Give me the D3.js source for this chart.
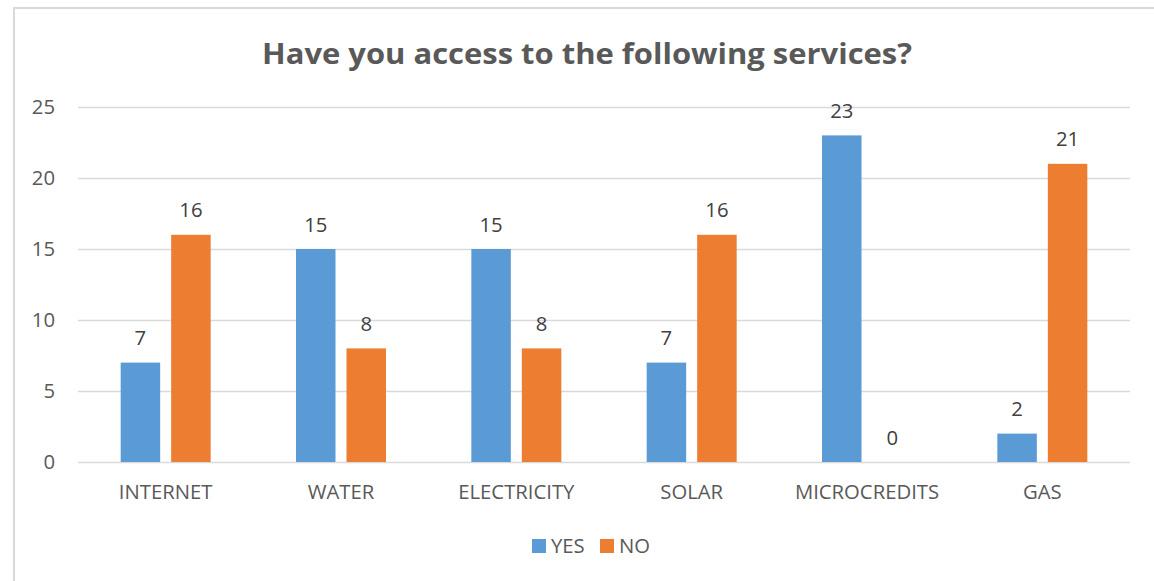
<!DOCTYPE html>
<html>
<head>
<meta charset="utf-8">
<script src="https://cdn.jsdelivr.net/npm/d3@7/dist/d3.min.js"></script>
<style>
  html, body { margin: 0; padding: 0; background: #fff; }
  svg { display: block; }
  text { font-family: "Open Sans", "Noto Sans", sans-serif; }
</style>
</head>
<body>
<svg id="chart" width="1154" height="581"></svg>
<script>
const categories = ["INTERNET", "WATER", "ELECTRICITY", "SOLAR", "MICROCREDITS", "GAS"];
const seriesNames = ["YES", "NO"];
const yesValues = [7, 15, 15, 7, 23, 2];
const noValues = [16, 8, 8, 16, 0, 21];
const yTicks = [0, 5, 10, 15, 20, 25];
const colors = ["#5B9BD5", "#ED7D31"];
const title = "Have you access to the following services?";

const svg = d3.select("#chart");
const W = 1154, H = 581;
const plot = { left: 78, right: 1130, top: 107, bottom: 462 };
const FS = 20.3;

// chart frame
svg.append("rect")
  .attr("x", 14).attr("y", 8)
  .attr("width", W).attr("height", H)
  .attr("fill", "#fff")
  .attr("stroke", "#d9d9d9").attr("stroke-width", 2);

svg.append("text")
  .attr("x", 587).attr("y", 64)
  .attr("text-anchor", "middle")
  .attr("font-size", 29).attr("font-weight", 700)
  .attr("fill", "#595959")
  .attr("textLength", 650).attr("lengthAdjust", "spacingAndGlyphs")
  .text(title);

const x = d3.scaleBand().domain(categories).range([plot.left, plot.right]);
const y = d3.scaleLinear().domain([0, 25]).range([plot.bottom, plot.top]);

// gridlines + y labels
const yAxis = d3.axisLeft(y).tickValues(yTicks).tickSize(-(plot.right - plot.left)).tickPadding(23);
const gy = svg.append("g").attr("transform", `translate(${plot.left},0)`).call(yAxis);
gy.select(".domain").remove();
gy.selectAll(".tick line").attr("stroke", "#d9d9d9").attr("stroke-width", 1.3);
gy.selectAll(".tick text").attr("font-size", FS).attr("fill", "#595959")
  .attr("font-family", "'Open Sans', sans-serif");

// x labels
const xAxis = d3.axisBottom(x).tickSize(0).tickPadding(22.5);
const gx = svg.append("g").attr("transform", `translate(0,${plot.bottom})`).call(xAxis);
gx.select(".domain").remove();
gx.selectAll(".tick text").attr("font-size", FS).attr("fill", "#595959")
  .attr("font-family", "'Open Sans', sans-serif");

// bars
const barW = 39.5, innerGap = 11;
const sub = d3.scaleOrdinal().domain(seriesNames).range([-(innerGap / 2 + barW), innerGap / 2]);
const rows = categories.map((c, i) => ({ c, vals: [yesValues[i], noValues[i]] }));

const groups = svg.append("g").selectAll("g").data(rows).join("g")
  .attr("transform", d => `translate(${x(d.c) + x.bandwidth() / 2},0)`);

groups.selectAll("rect")
  .data(d => d.vals.map((v, k) => ({ v, k })))
  .join("rect")
  .attr("x", d => sub(seriesNames[d.k]))
  .attr("width", barW)
  .attr("y", d => y(d.v))
  .attr("height", d => y(0) - y(d.v))
  .attr("fill", d => colors[d.k]);

groups.selectAll("text.val")
  .data(d => d.vals.map((v, k) => ({ v, k })))
  .join("text")
  .attr("class", "val")
  .attr("x", d => sub(seriesNames[d.k]) + barW / 2)
  .attr("y", d => y(d.v) - 17.5)
  .attr("text-anchor", "middle")
  .attr("font-size", FS).attr("fill", "#404040")
  .text(d => d.v);

// legend
const legend = svg.append("g");
const legX = [532, 600];
seriesNames.forEach((s, k) => {
  legend.append("rect").attr("x", legX[k]).attr("y", 539).attr("width", 14).attr("height", 14).attr("fill", colors[k]);
  legend.append("text").attr("x", legX[k] + 19).attr("y", 553)
    .attr("font-size", FS).attr("fill", "#595959").text(s);
});
</script>
</body>
</html>
